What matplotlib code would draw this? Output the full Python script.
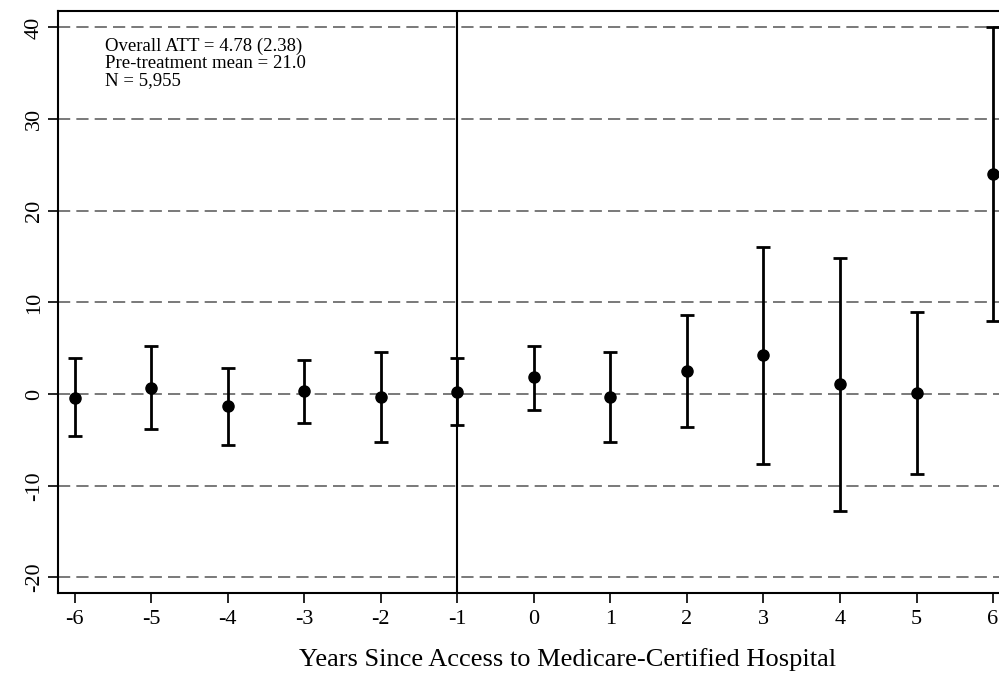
import matplotlib
matplotlib.use('Agg')
import matplotlib.pyplot as plt

plt.rcParams['font.family'] = ['Liberation Serif', 'DejaVu Serif']
plt.rcParams['axes.unicode_minus'] = False

# Годы относительно доступа к больнице и оценки с доверительными интервалами
years = [-6, -5, -4, -3, -2, -1, 0, 1, 2, 3, 4, 5, 6]
estimate = [-0.4, 0.7, -1.3, 0.3, -0.3, 0.2, 1.9, -0.3, 2.5, 4.3, 1.1, 0.1, 24.0]
ci_low = [-4.6, -3.8, -5.6, -3.1, -5.2, -3.4, -1.7, -5.2, -3.6, -7.6, -12.8, -8.7, 8.0]
ci_high = [3.9, 5.2, 2.9, 3.7, 4.6, 3.9, 5.3, 4.6, 8.6, 16.1, 14.8, 9.0, 40.0]
y_ticks = [-20, -10, 0, 10, 20, 30, 40]
note_lines = ['Overall ATT = 4.78 (2.38)', 'Pre-treatment mean = 21.0', 'N = 5,955']

fig = plt.figure(figsize=(9.99, 6.73), dpi=100)
ax = fig.add_axes([0.058, 1 - 593 / 673, 0.942, 582 / 673])

# Пунктирная сетка по оси Y
for yt in y_ticks:
    ax.axhline(yt, color='#555555', lw=1.1, ls=(0, (8, 4)), zorder=1)

ax.axvline(-1, color='black', lw=1.5, zorder=2)

err_lo = [e - l for e, l in zip(estimate, ci_low)]
err_hi = [h - e for e, h in zip(estimate, ci_high)]
ax.errorbar(years, estimate, yerr=[err_lo, err_hi], fmt='o', color='black',
            ms=8, lw=2, capsize=5, capthick=2, zorder=3, clip_on=False)

ax.set_xlim(-6.22, 6.078)
ax.set_ylim(-21.7, 41.8)
ax.set_xticks(years)
ax.set_yticks(y_ticks)
ax.tick_params(axis='both', direction='out', length=7, width=1.2, labelsize=16)
ax.tick_params(axis='x', pad=5)
ax.tick_params(axis='y', labelrotation=90, pad=3)
for lab in ax.get_yticklabels():
    lab.set_va('center')

ax.spines['right'].set_visible(False)
for s in ['left', 'top', 'bottom']:
    ax.spines[s].set_linewidth(1.5)

# подпись оси смещена вправо, как на исходной (обрезанной) картинке
ax.set_xlabel('Years Since Access to Medicare-Certified Hospital', fontsize=19)
ax.xaxis.set_label_coords(0.542, -0.095)

ax.text(-5.6, 38.9, '\n'.join(note_lines), fontsize=13.5, va='top', ha='left',
        linespacing=1.0)

fig.savefig('out.png', dpi=100)
